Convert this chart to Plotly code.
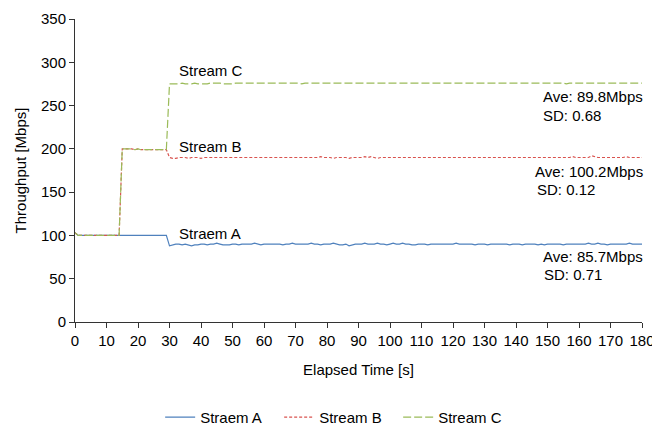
import plotly.graph_objects as go

time_s = list(range(0, 181))

stream_a = ([103] + [100] * 29 + [
    88, 89, 90, 90, 89, 90, 89, 88, 89, 89,
    90, 90, 89, 90, 90, 91, 90, 89, 89, 89,
    90, 90, 89, 90, 90, 90, 90, 91, 90, 89,
    90, 90, 90, 90, 90, 90, 89, 90, 90, 91,
    90, 90, 90, 90, 90, 91, 90, 90, 89, 90,
    90, 90, 91, 90, 89, 89, 90, 88, 89, 90,
    90, 90, 91, 90, 90, 90, 91, 90, 90, 89,
    90, 91, 90, 90, 91, 90, 90, 89, 89, 90,
    90, 90, 89, 90, 90, 90, 90, 90, 90, 90,
    90, 91, 90, 90, 90, 90, 90, 89, 90, 90,
    90, 89, 90, 90, 90, 90, 90, 90, 89, 90,
    90, 90, 89, 90, 90, 90, 90, 89, 90, 89,
    90, 90, 90, 90, 90, 89, 90, 90, 90, 90,
    90, 90, 90, 91, 90, 90, 91, 90, 90, 89,
    90, 90, 90, 90, 90, 90, 91, 90, 90, 90,
    90])

stream_b = ([103] + [100] * 14 +
    [200, 200, 200, 200, 199, 200, 199, 199, 199, 199, 199, 199, 199, 199, 199] + [
    190, 189, 189, 190, 190, 190, 189, 190, 190, 190,
    189, 190, 190, 190, 190, 190, 190, 190, 190, 190,
    190, 190, 190, 190, 190, 190, 190, 190, 190, 190,
    190, 190, 190, 190, 190, 190, 190, 190, 190, 190,
    190, 190, 190, 190, 190, 190, 190, 190, 191, 190,
    190, 190, 189, 190, 190, 190, 190, 189, 190, 190,
    190, 190, 191, 190, 191, 190, 189, 190, 190, 190,
    190, 190, 190, 190, 190, 190, 190, 190, 190, 190,
    190, 190, 190, 190, 190, 190, 190, 190, 190, 190,
    190, 190, 190, 190, 190, 190, 190, 190, 190, 190,
    190, 190, 190, 190, 190, 190, 190, 190, 190, 190,
    190, 190, 190, 190, 190, 190, 190, 190, 190, 190,
    190, 190, 190, 190, 190, 190, 190, 190, 191, 190,
    190, 190, 190, 190, 192, 191, 190, 190, 190, 190,
    190, 190, 190, 190, 190, 191, 190, 190, 190, 190,
    190])

stream_c = ([103] + [100] * 14 +
    [200, 200, 200, 200, 199, 200, 199, 199, 199, 199, 199, 199, 199, 199, 199] + [
    275, 275, 275, 275, 276, 275, 275, 275, 276, 275,
    275, 275, 275, 276, 276, 276, 276, 275, 275, 275,
    275, 276, 276, 276, 276, 276, 276, 276, 276, 276,
    276, 276, 276, 276, 276, 276, 276, 276, 276, 276,
    276, 276, 275, 276, 276, 276, 276, 276, 276, 276,
    276, 276, 276, 276, 276, 276, 276, 276, 276, 276,
    276, 276, 276, 276, 276, 276, 276, 276, 276, 276,
    276, 276, 276, 276, 276, 276, 276, 276, 276, 276,
    276, 276, 276, 276, 276, 276, 276, 276, 276, 276,
    276, 276, 276, 276, 276, 276, 276, 276, 276, 276,
    276, 276, 276, 276, 276, 276, 276, 276, 276, 276,
    276, 276, 276, 276, 276, 276, 276, 276, 276, 276,
    276, 276, 276, 276, 276, 276, 275, 276, 276, 276,
    276, 276, 276, 276, 276, 276, 276, 276, 276, 276,
    276, 276, 276, 276, 276, 276, 276, 276, 276, 276,
    276])

series_names = ["Straem A", "Stream B", "Stream C"]
label_texts = ["Straem A", "Stream B", "Stream C"]
ave_texts = ["Ave: 85.7Mbps", "Ave: 100.2Mbps", "Ave: 89.8Mbps"]
sd_texts = ["SD: 0.71", "SD: 0.12", "SD: 0.68"]

FONT = "Liberation Sans, Arial, sans-serif"
colors = ["#4F81BD", "#D9534F", "#9BBB59"]
dashes = ["solid", "3px,2px", "8px,3px"]

fig = go.Figure()
for name, ys, col, dash in zip(series_names, [stream_a, stream_b, stream_c], colors, dashes):
    fig.add_trace(go.Scatter(x=time_s, y=ys, mode="lines", name=name,
                             line=dict(color=col, width=1.2, dash=dash)))

# series labels
label_pos = [(32.3, 102.5), (32.3, 202.5), (32.3, 290)]
for txt, (lx, ly) in zip(label_texts, label_pos):
    fig.add_annotation(x=lx, y=ly, xref="x", yref="y", text=txt, showarrow=False,
                       xanchor="left", yanchor="middle", font=dict(size=15, color="#000"))

ave_pos = [(180, 75.4), (180, 174.4), (180, 260.3)]
sd_pos = [(148.3, 54.3), (146.0, 152.5), (147.9, 239.1)]
for txt, (ax_, ay_) in zip(ave_texts, ave_pos):
    fig.add_annotation(x=ax_, y=ay_, xref="x", yref="y", text=txt, showarrow=False,
                       xanchor="right", yanchor="middle", xshift=3, font=dict(size=15, color="#000"))
for txt, (sx, sy) in zip(sd_texts, sd_pos):
    fig.add_annotation(x=sx, y=sy, xref="x", yref="y", text=txt, showarrow=False,
                       xanchor="left", yanchor="middle", font=dict(size=15, color="#000"))

fig.update_layout(
    width=652, height=425,
    margin=dict(l=75, r=10, t=19, b=103, autoexpand=False),
    paper_bgcolor="white", plot_bgcolor="white",
    font=dict(family=FONT, size=15, color="#000"),
    showlegend=True,
    legend=dict(orientation="h", x=0.465, xanchor="center", y=-0.315, yanchor="middle",
                font=dict(size=15), itemwidth=30, tracegroupgap=0,
                entrywidth=74, entrywidthmode="pixels"),
    xaxis=dict(range=[0, 180], tickmode="linear", tick0=0, dtick=10,
               showgrid=False, zeroline=False, showline=True, linecolor="#333", linewidth=1,
               ticks="outside", ticklen=5, tickcolor="#333", automargin=False,
               ticklabeloverflow="allow",
               title=dict(text="Elapsed Time [s]", standoff=16, font=dict(size=15)),
               tickfont=dict(size=15)),
    yaxis=dict(range=[0, 350], tickmode="linear", tick0=0, dtick=50,
               showgrid=False, zeroline=False, showline=True, linecolor="#333", linewidth=1,
               ticks="outside", ticklen=5, tickcolor="#333", automargin=False,
               title=dict(text="Throughput [Mbps]", standoff=10, font=dict(size=15)),
               tickfont=dict(size=15)),
)

fig.write_html("out.html")
